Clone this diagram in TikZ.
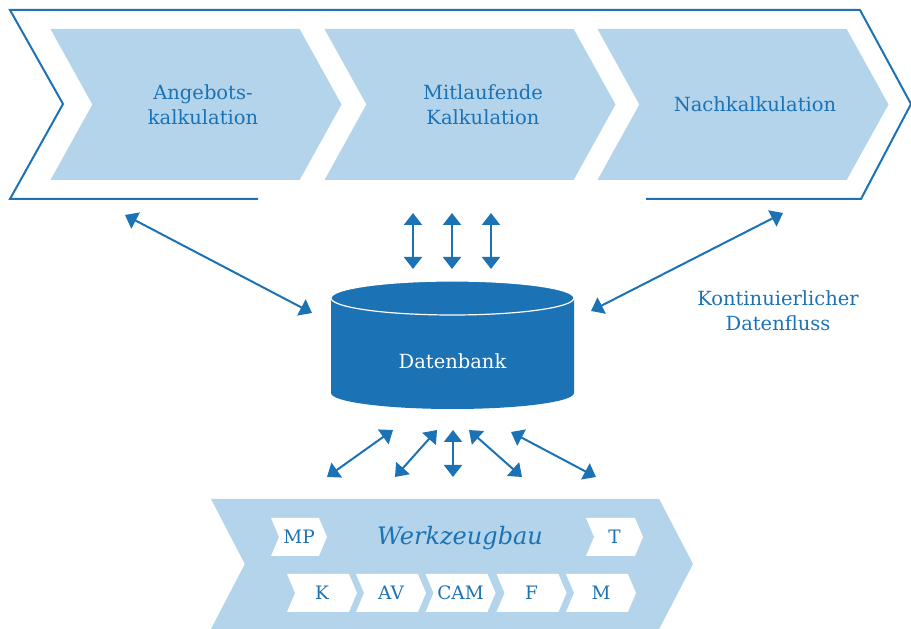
\documentclass[tikz,border=0pt]{standalone}
\usepackage{fontspec}
\setmainfont{DejaVu Serif}
\usetikzlibrary{arrows.meta,shapes.symbols}
\definecolor{dbblue}{HTML}{1B72B5}
\definecolor{paleblue}{HTML}{B3D4EA}
\tikzset{
  phasebox/.style={
    shape=signal,
    signal from=west,
    signal to=east,
    signal pointer angle=122,
    fill=paleblue,
    draw=none,
    minimum width=291pt,
    minimum height=151pt,
    inner sep=0pt
  },
  phasetext/.style={
    align=center,
    text=dbblue,
    font=\fontsize{19.5}{25}\selectfont
  },
  toolbox/.style={
    shape=signal,
    signal from=west,
    signal to=east,
    signal pointer angle=134,
    fill=white,
    draw=none,
    minimum width=70pt,
    minimum height=38pt,
    inner sep=0pt,
    text=dbblue,
    font=\fontsize{18.5}{20}\selectfont
  },
  flow/.style={
    {Triangle[length=12pt,width=18pt]}-{Triangle[length=12pt,width=18pt]},
    line width=2pt,
    draw=dbblue
  }
}
\begin{document}
\begin{tikzpicture}[x=1pt,y=1pt]
\useasboundingbox (0,0) rectangle (911,629);
% process chain
\draw[dbblue, line width=2pt] (258,430) -- (10,430) -- (63,525) -- (10,619) -- (860,619) -- (911,525) -- (861,430) -- (646,430);
\node[phasebox] (p1) at (196,524.5) {};
\node[phasebox] (p2) at (470,524.5) {};
\node[phasebox] (p3) at (743,524.5) {};
\node[phasetext] (t1) at ([xshift=7pt]p1.center) {Angebots-\\kalkulation};
\node[phasetext] (t2) at ([xshift=13pt]p2.center) {Mitlaufende\\Kalkulation};
\node[phasetext] (t3) at ([xshift=12pt]p3.center) {Nachkalkulation};
% database
\fill[dbblue] (331,331) -- (331,236) arc[start angle=180, end angle=360, x radius=121.5, y radius=16] -- (574,331) arc[start angle=0, end angle=180, x radius=121.5, y radius=17] -- cycle;
\draw[white, line width=1.2pt] (452.5,331) ellipse[x radius=121.5, y radius=17];
\node[text=white, font=\fontsize{19.5}{25}\selectfont] (db) at (452.5,268) {Datenbank};
\node[phasetext] (flusstext) at (778,318) {Kontinuierlicher\\Datenfluss};
% tool shop
\node[shape=signal, signal from=west, signal to=east, signal pointer angle=125, fill=paleblue, minimum width=482pt, minimum height=130pt, inner sep=0pt] (wb) at (452,65) {};
\node[text=dbblue, font=\fontsize{24}{28}\selectfont\itshape] (wbtext) at (460,91) {Werkzeugbau};
\node[toolbox, minimum width=56pt] (mp) at (299,92) {MP};
\node[toolbox, minimum width=57pt] (t) at (614.5,92) {T};
\node[toolbox] (k) at (322,36) {K};
\node[toolbox] (av) at (391,36) {AV};
\node[toolbox] (cam) at (460.5,36) {CAM};
\node[toolbox] (f) at (531.5,36) {F};
\node[toolbox] (m) at (601,36) {M};
% data flow
\coordinate (u1) at (413,416); \coordinate (v1) at (413,360);
\coordinate (u2) at (452,416); \coordinate (v2) at (452,360);
\coordinate (u3) at (491,416); \coordinate (v3) at (491,360);
\coordinate (l1) at (125,414); \coordinate (l2) at (312,316);
\coordinate (r1) at (783,416); \coordinate (r2) at (591,318);
\coordinate (b1) at (327,152); \coordinate (d1) at (393,199);
\coordinate (b2) at (395,152); \coordinate (d2) at (437,199);
\coordinate (b3) at (453,152); \coordinate (d3) at (453,199);
\coordinate (b4) at (522,152); \coordinate (d4) at (469,199);
\coordinate (b5) at (596,152); \coordinate (d5) at (511,197);
\draw[flow] (u1) -- (v1);
\draw[flow] (u2) -- (v2);
\draw[flow] (u3) -- (v3);
\draw[flow] (l1) -- (l2);
\draw[flow] (r1) -- (r2);
\draw[flow] (b1) -- (d1);
\draw[flow] (b2) -- (d2);
\draw[flow] (b3) -- (d3);
\draw[flow] (b4) -- (d4);
\draw[flow] (b5) -- (d5);
\end{tikzpicture}
\end{document}
